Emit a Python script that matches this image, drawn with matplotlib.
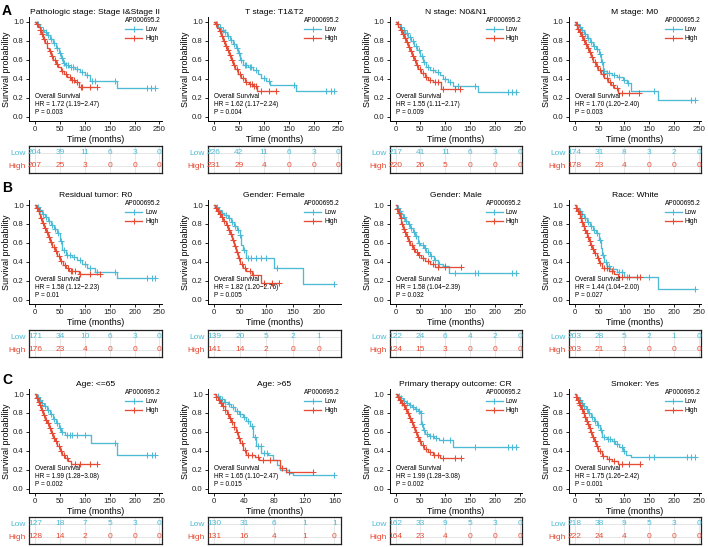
import numpy as np
import matplotlib
matplotlib.use("Agg")
import matplotlib.pyplot as plt
from matplotlib.lines import Line2D

plt.rcParams["font.family"] = ["Liberation Sans", "DejaVu Sans"]

# cores do ggsci npg (Low azul, High vermelho)
COR_LOW = "#4DBBD5"
COR_HIGH = "#E64B35"

PAINEIS = ["A", "B", "C"]

TITULOS = [
    "Pathologic stage: Stage I&Stage II", "T stage: T1&T2", "N stage: N0&N1", "M stage: M0",
    "Residual tumor: R0", "Gender: Female", "Gender: Male", "Race: White",
    "Age: <=65", "Age: >65", "Primary therapy outcome: CR", "Smoker: Yes",
]
HR_TXT = [
    "1.72 (1.19\u22122.47)", "1.62 (1.17\u22122.24)", "1.55 (1.11\u22122.17)", "1.70 (1.20\u22122.40)",
    "1.58 (1.12\u22122.23)", "1.82 (1.20\u22122.76)", "1.58 (1.04\u22122.39)", "1.44 (1.04\u22122.00)",
    "1.99 (1.28\u22123.08)", "1.65 (1.10\u22122.47)", "1.99 (1.28\u22123.08)", "1.75 (1.26\u22122.42)",
]
P_TXT = ["0.003", "0.004", "0.009", "0.003", "0.01", "0.005", "0.032", "0.027",
         "0.002", "0.015", "0.002", "0.001"]
PASSO_X = [50, 50, 50, 50, 50, 50, 50, 50, 50, 40, 50, 50]

RISCO_LOW = [
    [204, 39, 11, 6, 3, 0], [226, 42, 11, 6, 3, 0], [217, 41, 11, 6, 3, 0], [174, 31, 8, 3, 2, 0],
    [171, 34, 10, 6, 3, 0], [139, 20, 5, 2, 1], [122, 24, 6, 4, 2, 0], [203, 28, 5, 2, 1, 0],
    [127, 18, 7, 5, 3, 0], [130, 31, 6, 1, 1], [162, 33, 9, 5, 3, 0], [218, 38, 9, 5, 3, 0],
]
RISCO_HIGH = [
    [207, 25, 3, 0, 0, 0], [231, 29, 4, 0, 0, 0], [220, 26, 5, 0, 0, 0], [178, 23, 4, 0, 0, 0],
    [176, 23, 4, 0, 0, 0], [141, 14, 2, 0, 0], [124, 15, 3, 0, 0, 0], [203, 21, 3, 0, 0, 0],
    [128, 14, 2, 0, 0, 0], [131, 16, 4, 1, 0], [164, 23, 4, 0, 0, 0], [222, 24, 4, 0, 0, 0],
]

# degraus das curvas (tempo da queda, sobrevida depois da queda) e censuras
LOW_T = [
    [3, 8, 13, 18, 24, 30, 36, 42, 48, 52, 56, 60, 68, 80, 90, 100, 110, 165],
    [3, 8, 14, 20, 26, 32, 38, 44, 48, 52, 58, 68, 78, 88, 95, 105, 112, 165],
    [3, 8, 14, 20, 26, 32, 38, 44, 50, 56, 62, 70, 80, 90, 96, 105, 116, 166],
    [3, 8, 14, 20, 26, 32, 38, 44, 50, 53, 57, 65, 75, 85, 97, 105, 113, 168],
    [3, 8, 14, 20, 26, 32, 38, 44, 50, 55, 62, 75, 85, 95, 105, 120, 165],
    [3, 8, 14, 20, 26, 32, 38, 44, 49, 52, 55, 62, 114, 169],
    [2, 6, 10, 15, 20, 25, 30, 35, 40, 45, 50, 58, 62, 70, 78, 85, 95, 108],
    [3, 8, 14, 20, 26, 32, 38, 44, 50, 53, 56, 60, 66, 72, 85, 100, 168],
    [3, 8, 13, 18, 24, 30, 36, 42, 48, 52, 60, 112, 165],
    [3, 8, 13, 18, 23, 28, 33, 38, 43, 48, 52, 56, 63, 72, 78, 83, 88, 100, 105],
    [4, 10, 16, 22, 28, 34, 40, 46, 50, 52, 55, 60, 68, 78, 88, 115],
    [3, 8, 13, 18, 23, 28, 34, 40, 46, 52, 56, 65, 75, 82, 90, 98, 104, 114],
]
LOW_S = [
    [.98, .95, .92, .89, .86, .82, .78, .73, .67, .62, .57, .54, .52, .50, .47, .44, .38, .30],
    [.98, .95, .92, .89, .85, .81, .77, .72, .67, .60, .54, .52, .49, .45, .41, .38, .33, .27],
    [.98, .95, .92, .88, .84, .80, .75, .70, .64, .58, .52, .49, .47, .44, .40, .36, .32, .26],
    [.98, .95, .91, .87, .83, .79, .75, .71, .66, .58, .48, .46, .44, .42, .39, .35, .27, .18],
    [.98, .95, .91, .87, .83, .79, .75, .70, .62, .52, .47, .45, .42, .38, .33, .29, .23],
    [.98, .95, .92, .89, .86, .82, .78, .74, .68, .58, .52, .44, .33, .165],
    [.97, .94, .91, .87, .83, .80, .76, .72, .67, .60, .58, .55, .50, .46, .42, .38, .35, .28],
    [.97, .94, .90, .86, .82, .78, .74, .70, .63, .55, .47, .40, .35, .32, .29, .24, .11],
    [.97, .94, .91, .87, .83, .79, .74, .69, .64, .60, .57, .48, .36],
    [.98, .95, .92, .89, .86, .82, .79, .76, .72, .66, .55, .45, .38, .35, .30, .25, .20, .17, .14],
    [.98, .96, .93, .90, .88, .86, .84, .82, .80, .68, .62, .58, .56, .53, .51, .44],
    [.97, .94, .91, .87, .84, .80, .76, .71, .67, .62, .55, .52, .50, .47, .44, .40, .36, .33],
]
LOW_CENS = [
    [6, 11, 16, 22, 27, 33, 39, 45, 50, 54, 58, 63, 66, 72, 76, 85, 95, 105, 115, 120, 160, 225, 233, 242],
    [6, 12, 18, 23, 29, 35, 41, 46, 50, 55, 62, 65, 72, 75, 85, 100, 110, 160, 225, 235, 242],
    [5, 11, 17, 23, 29, 35, 41, 47, 53, 58, 65, 75, 85, 100, 110, 125, 160, 225, 235, 242],
    [5, 10, 16, 22, 28, 34, 40, 46, 52, 55, 60, 66, 70, 80, 90, 100, 108, 160, 235, 242],
    [5, 11, 17, 23, 29, 35, 41, 47, 52, 58, 65, 70, 78, 90, 100, 110, 125, 160, 225, 235, 242],
    [5, 10, 16, 22, 28, 34, 40, 46, 50, 58, 65, 70, 80, 90, 100, 120, 230],
    [4, 8, 12, 17, 22, 27, 32, 37, 42, 47, 55, 60, 65, 72, 80, 88, 100, 120, 160, 165, 235, 242],
    [5, 10, 16, 22, 28, 34, 40, 46, 52, 58, 63, 70, 78, 90, 95, 105, 150, 242],
    [5, 10, 15, 20, 26, 32, 38, 44, 50, 55, 65, 70, 75, 85, 100, 160, 225, 235, 242],
    [5, 10, 15, 20, 25, 30, 35, 40, 45, 50, 54, 58, 62, 66, 70, 95, 160],
    [6, 12, 18, 24, 30, 36, 42, 48, 51, 54, 58, 63, 70, 75, 82, 95, 110, 160, 225, 235, 242],
    [5, 10, 15, 20, 25, 30, 36, 42, 48, 54, 60, 68, 72, 80, 86, 95, 100, 150, 160, 225, 235, 242],
]
HIGH_T = [
    [2, 5, 9, 13, 17, 21, 25, 29, 33, 37, 42, 47, 52, 58, 65, 72, 80, 88],
    [2, 6, 10, 14, 18, 22, 26, 30, 34, 38, 43, 48, 55, 62, 70, 78, 87],
    [2, 5, 9, 13, 17, 21, 25, 29, 33, 37, 41, 46, 52, 59, 66, 75, 91],
    [2, 5, 9, 13, 17, 21, 25, 29, 33, 38, 43, 48, 54, 60, 67, 74, 80, 88],
    [2, 5, 8, 11, 15, 19, 23, 27, 31, 35, 40, 45, 50, 56, 62, 68, 88],
    [2, 6, 10, 14, 18, 22, 26, 30, 34, 38, 42, 46, 50, 56, 62, 72, 89],
    [2, 5, 8, 12, 15, 18, 22, 26, 30, 35, 40, 46, 52, 60, 70, 80],
    [2, 5, 8, 11, 14, 17, 20, 23, 26, 29, 32, 36, 40, 45, 50, 55, 70, 80, 88],
    [2, 5, 8, 12, 16, 20, 24, 28, 32, 36, 40, 45, 50, 55, 60, 66, 72],
    [2, 5, 8, 11, 14, 17, 20, 23, 26, 29, 32, 35, 39, 43, 55, 60, 87, 95],
    [3, 7, 11, 15, 19, 23, 27, 31, 35, 39, 43, 47, 52, 58, 66, 75, 89],
    [2, 5, 8, 11, 14, 17, 20, 23, 26, 29, 32, 36, 40, 44, 48, 55, 65, 75, 88],
]
HIGH_S = [
    [.98, .95, .91, .87, .82, .78, .73, .69, .64, .60, .56, .52, .48, .45, .42, .39, .37, .31],
    [.98, .94, .90, .85, .80, .75, .70, .65, .60, .55, .50, .45, .41, .37, .34, .32, .27],
    [.98, .95, .91, .87, .83, .79, .74, .69, .64, .60, .55, .50, .46, .42, .39, .36, .29],
    [.97, .93, .89, .85, .81, .77, .72, .68, .63, .58, .53, .49, .45, .41, .37, .33, .30, .25],
    [.97, .94, .90, .86, .81, .76, .71, .66, .61, .56, .51, .46, .41, .37, .33, .30, .27],
    [.97, .94, .91, .87, .83, .79, .74, .69, .63, .57, .50, .44, .38, .33, .30, .26, .18],
    [.96, .92, .86, .80, .75, .71, .67, .62, .58, .54, .50, .47, .44, .41, .38, .34],
    [.97, .94, .90, .86, .82, .78, .74, .70, .66, .62, .58, .54, .49, .44, .39, .33, .30, .27, .24],
    [.96, .92, .88, .83, .78, .73, .69, .64, .59, .54, .50, .45, .40, .36, .32, .29, .26],
    [.97, .94, .91, .87, .83, .79, .75, .70, .65, .60, .54, .48, .41, .36, .33, .30, .22, .18],
    [.97, .94, .91, .88, .84, .80, .75, .70, .65, .60, .55, .50, .46, .42, .39, .36, .32],
    [.97, .94, .91, .88, .84, .80, .76, .72, .68, .64, .60, .55, .50, .45, .40, .34, .31, .29, .26],
]
HIGH_CENS = [
    [4, 10, 15, 19, 24, 31, 35, 40, 45, 55, 62, 70, 75, 78, 84, 92, 95, 110, 125],
    [4, 12, 16, 20, 25, 28, 33, 37, 41, 46, 52, 58, 65, 72, 76, 80, 85, 95, 110, 125],
    [4, 11, 15, 19, 23, 27, 31, 35, 39, 44, 49, 55, 62, 70, 80, 85, 95, 120, 130],
    [4, 7, 11, 15, 19, 24, 28, 32, 36, 41, 46, 52, 58, 65, 72, 78, 85, 95, 110, 130],
    [4, 7, 13, 17, 21, 25, 29, 33, 38, 43, 48, 53, 60, 66, 72, 75, 80, 90, 110, 130],
    [4, 8, 12, 16, 20, 24, 28, 32, 36, 40, 44, 48, 54, 60, 68, 75, 95, 110, 125],
    [3, 7, 10, 14, 17, 20, 24, 28, 33, 38, 43, 48, 55, 65, 75, 85, 100, 132],
    [3, 7, 10, 13, 16, 19, 22, 25, 28, 31, 34, 38, 42, 48, 52, 60, 66, 75, 95, 110, 125, 132],
    [3, 7, 10, 14, 18, 22, 26, 30, 34, 38, 43, 48, 53, 58, 65, 80, 90, 110, 125],
    [3, 6, 9, 12, 15, 18, 21, 24, 27, 30, 33, 37, 41, 45, 50, 58, 65, 75, 90, 100, 132],
    [5, 9, 13, 17, 21, 25, 29, 33, 37, 41, 45, 50, 55, 62, 70, 78, 85, 95, 120, 132],
    [3, 6, 9, 12, 16, 19, 22, 25, 28, 31, 34, 38, 42, 46, 52, 58, 70, 80, 95, 110, 132],
]

W_PX, H_PX = 708, 547
COL_X = [29, 208, 389.5, 568.5]
COL_W = 132.5
ROW_Y = [17.25, 200.3, 389.3]
PLOT_H = 104
TAB_Y = [145.5, 329.5, 516.5]
TAB_H = 27.5


def caixa(x, y, w, h):
    return [x / W_PX, 1 - (y + h) / H_PX, w / W_PX, h / H_PX]


def degraus(ax, tempos, sobrev, cens, cor):
    tempos = np.asarray(tempos, float)
    niveis = np.r_[1.0, sobrev]
    fim = max(cens[-1], tempos[-1])
    ax.step(np.r_[0, tempos, fim], np.r_[niveis, sobrev[-1]], where="post",
            color=cor, lw=0.95)
    yc = niveis[np.searchsorted(tempos, cens, side="right")]
    ax.plot(cens, yc, ls="none", marker="+", ms=4, mew=0.75, color=cor)


fig = plt.figure(figsize=(W_PX / 100, H_PX / 100), dpi=100)

for k in range(12):
    lin, col = divmod(k, 4)
    ax = fig.add_axes(caixa(COL_X[col], ROW_Y[lin], COL_W, PLOT_H))
    degraus(ax, LOW_T[k], LOW_S[k], LOW_CENS[k], COR_LOW)
    degraus(ax, HIGH_T[k], HIGH_S[k], HIGH_CENS[k], COR_HIGH)

    tmax = max(LOW_CENS[k][-1], HIGH_CENS[k][-1], LOW_T[k][-1], HIGH_T[k][-1])
    xlim = (-0.05 * tmax, 1.05 * tmax)
    passo = PASSO_X[k]
    ticks = np.arange(0, xlim[1], passo)
    ax.set_xlim(xlim)
    ax.set_ylim(-0.05, 1.05)
    ax.set_xticks(ticks)
    ax.set_yticks([0, 0.2, 0.4, 0.6, 0.8, 1.0])
    ax.set_yticklabels(["0.0", "0.2", "0.4", "0.6", "0.8", "1.0"])
    for lado in ["top", "right"]:
        ax.spines[lado].set_visible(False)
    for lado in ["left", "bottom"]:
        ax.spines[lado].set_linewidth(0.7)
    ax.tick_params(length=2.2, width=0.6, labelsize=5.6, pad=1.5, labelcolor="#222222")
    ax.set_title(TITULOS[k], fontsize=6.1, pad=2.5)
    ax.set_xlabel("Time (months)", fontsize=6.4, labelpad=1)
    ax.set_ylabel("Survival probability", fontsize=6.4, labelpad=1.5)

    ax.text(0, 0.21, "Overall Survival", fontsize=4.7, va="center")
    ax.text(0, 0.128, "HR = " + HR_TXT[k], fontsize=4.7, va="center")
    ax.text(0, 0.045, "P = " + P_TXT[k], fontsize=4.7, va="center")

    alcas = [Line2D([], [], color=COR_LOW, lw=0.95, marker="+", ms=4, mew=0.75),
             Line2D([], [], color=COR_HIGH, lw=0.95, marker="+", ms=4, mew=0.75)]
    ax.legend(alcas, ["Low", "High"], title="AP000695.2", loc="upper right",
              bbox_to_anchor=(1.03, 1.05), fontsize=4.7, title_fontsize=4.7,
              frameon=False, handlelength=2.6, handletextpad=0.5,
              labelspacing=0.35, borderpad=0.2, alignment="left")

    # ---- tabela de risco ----
    tb = fig.add_axes(caixa(COL_X[col], TAB_Y[lin], COL_W, TAB_H))
    tb.set_xlim(xlim)
    tb.set_ylim(0.45, 2.55)
    tb.set_xticks(ticks)
    tb.set_yticks([2, 1])
    tb.set_yticklabels(["Low", "High"], fontsize=6)
    for rot, cor in zip(tb.get_yticklabels(), [COR_LOW, COR_HIGH]):
        rot.set_color(cor)
    tb.tick_params(length=0, labelbottom=False, pad=2)
    tb.grid(True, color="#E2E2E2", lw=0.6)
    tb.set_axisbelow(True)
    for sp in tb.spines.values():
        sp.set_linewidth(0.9)
        sp.set_color("#222222")
    for i, (nl, nh) in enumerate(zip(RISCO_LOW[k], RISCO_HIGH[k])):
        tb.text(ticks[i], 2, str(nl), color=COR_LOW, fontsize=6, ha="center", va="center")
        tb.text(ticks[i], 1, str(nh), color=COR_HIGH, fontsize=6, ha="center", va="center")

for letra, y in zip(PAINEIS, [11, 188, 380]):
    fig.text(2 / W_PX, 1 - y / H_PX, letra, fontsize=10, fontweight="bold", va="center")

fig.savefig("out.png", dpi=100)
